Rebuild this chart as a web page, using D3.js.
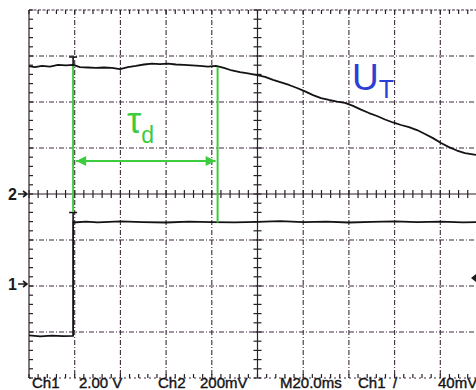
<!DOCTYPE html>
<html>
<head>
<meta charset="utf-8">
<script src="https://cdn.jsdelivr.net/npm/d3@7"></script>
<style>
  body { margin: 0; background: #fff; }
  svg { display: block; font-family: "Liberation Sans", Arial, sans-serif; }
  .grid { stroke: #3e2b3c; stroke-width: 1.1; stroke-dasharray: 5,2,1,2; fill: none; }
  .tick { stroke: #2a1f29; stroke-width: 1.2; }
  .trace { fill: none; stroke: #141214; stroke-width: 1.8; stroke-linejoin: round; }
  .cursor { stroke: #3dcc3d; stroke-width: 2; fill: none; }
</style>
</head>
<body>
<script>
// Scope settings
var timePerDiv = 20,   // ms
    ch1PerDiv = 2,     // V
    ch2PerDiv = 200;   // mV

// Ch2 trace U_T: time (ms) and voltage (mV)
var utTime = [0, 2.6, 5.7, 9.2, 12.7, 16.2, 19.3, 22.3, 25.8, 29.3, 32.8, 36.3, 39.8,
    43.3, 46.8, 50.3, 53.8, 57.3, 60.8, 64.3, 67.8, 71.3, 74.8, 78.3, 81.8, 85.3,
    88.8, 92.3, 95.8, 99.8, 103.3, 106.8, 110.3, 113.8, 117.3, 120.8, 124.3, 127.8,
    131.3, 134.8, 138.3, 141.8, 145.3, 148.8, 152.3, 155.8, 159.3, 162.8, 166.3,
    169.8, 173.3, 176.8, 180.3, 183.8, 187.3, 190.8, 195.6];
var utValue = [556, 552, 557, 554, 561, 559, 561, 552, 550, 548, 550, 548, 543,
    552, 557, 563, 567, 565, 567, 563, 561, 559, 557, 554, 557, 548,
    537, 530, 524, 517, 509, 496, 485, 474, 461, 446, 430, 417,
    409, 402, 396, 383, 367, 352, 339, 324, 311, 300, 291,
    278, 261, 243, 222, 204, 189, 178, 170];

// Ch1 trace: time (ms) and voltage (V), step at the trigger
var ch1Time = [0, 5, 10, 15, 19.3, 19.3, 25, 30, 40, 50, 60, 70, 80, 90, 100,
    110, 120, 130, 140, 150, 160, 170, 180, 190, 200];
var ch1Value = [-2.15, -2.19, -2.16, -2.18, -2.17, 2.76, 2.80, 2.77, 2.81, 2.78, 2.76,
    2.80, 2.78, 2.77, 2.79, 2.82, 2.78, 2.80, 2.76, 2.79, 2.81, 2.78, 2.80, 2.77, 2.79];

// Cursor times (ms)
var cursorTimes = [19.3, 82.1];

// Status line labels
var statusLabels = ["Ch1", "2.00 V", "Ch2", "200mV", "M20.0ms", "Ch1", "/", "40mV"];
var statusX = [32, 79, 158, 200, 280, 358, 393, 438];

var width = 476, height = 390;
var plotLeft = 29, plotTop = 10, divW = 45.7, divH = 46;

var svg = d3.select("body").append("svg")
    .attr("width", width)
    .attr("height", height);

// Time scale: 10 divisions across
var x = d3.scaleLinear()
    .domain([0, 10 * timePerDiv])
    .range([plotLeft, plotLeft + 10 * divW]);

// Screen divisions, 8 high, centre is 0
var yDiv = d3.scaleLinear()
    .domain([-4, 4])
    .range([plotTop + 8 * divH, plotTop]);

// Channel scales: Ch2 ground at centre, Ch1 ground two divisions below
var y2 = d3.scaleLinear()
    .domain([-4 * ch2PerDiv, 4 * ch2PerDiv])
    .range(yDiv.range());
var y1 = d3.scaleLinear()
    .domain([-2 * ch1PerDiv, 6 * ch1PerDiv])
    .range(yDiv.range());

var g = svg.append("g");

// Grid lines
g.selectAll(".vgrid")
    .data(d3.range(1, 10).filter(function(d) { return d !== 5; }))
    .enter().append("line")
    .attr("class", "grid")
    .attr("x1", function(d) { return x(d * timePerDiv); })
    .attr("x2", function(d) { return x(d * timePerDiv); })
    .attr("y1", yDiv(4)).attr("y2", yDiv(-4));

g.selectAll(".hgrid")
    .data(d3.range(-3, 4).filter(function(d) { return d !== 0; }))
    .enter().append("line")
    .attr("class", "grid")
    .attr("x1", x(0)).attr("x2", width)
    .attr("y1", function(d) { return yDiv(d); })
    .attr("y2", function(d) { return yDiv(d); });

// Frame: top, bottom dotted, left solid
g.append("line").attr("class", "grid")
    .attr("x1", x(0)).attr("x2", width)
    .attr("y1", yDiv(4)).attr("y2", yDiv(4))
    .style("stroke-dasharray", "3,1.5");
g.append("line").attr("class", "grid")
    .attr("x1", x(0)).attr("x2", width)
    .attr("y1", yDiv(-4)).attr("y2", yDiv(-4))
    .style("stroke-dasharray", "2,3");
g.append("line").attr("class", "tick")
    .attr("x1", x(0)).attr("x2", x(0))
    .attr("y1", yDiv(4)).attr("y2", yDiv(-4));

// Centre axes
g.append("line").attr("class", "tick")
    .attr("x1", x(0)).attr("x2", width)
    .attr("y1", yDiv(0)).attr("y2", yDiv(0));
g.append("line").attr("class", "tick")
    .attr("x1", x(5 * timePerDiv)).attr("x2", x(5 * timePerDiv))
    .attr("y1", yDiv(4)).attr("y2", yDiv(-4));

// Minor ticks, five per division
var xMinor = d3.range(0, 10 * timePerDiv + 0.1, timePerDiv / 5);
var yMinor = d3.range(-4, 4.01, 0.2);

g.selectAll(".xc").data(xMinor).enter().append("line")
    .attr("class", "tick")
    .attr("x1", function(d) { return x(d); }).attr("x2", function(d) { return x(d); })
    .attr("y1", yDiv(0) - 4).attr("y2", yDiv(0) + 4);
g.selectAll(".xt").data(xMinor).enter().append("line")
    .attr("class", "tick")
    .attr("x1", function(d) { return x(d); }).attr("x2", function(d) { return x(d); })
    .attr("y1", yDiv(4)).attr("y2", yDiv(4) + 4);
g.selectAll(".xb").data(xMinor).enter().append("line")
    .attr("class", "tick")
    .attr("x1", function(d) { return x(d); }).attr("x2", function(d) { return x(d); })
    .attr("y1", yDiv(-4)).attr("y2", yDiv(-4) - 4);
g.selectAll(".yc").data(yMinor).enter().append("line")
    .attr("class", "tick")
    .attr("x1", x(5 * timePerDiv) - 4).attr("x2", x(5 * timePerDiv) + 4)
    .attr("y1", function(d) { return yDiv(d); }).attr("y2", function(d) { return yDiv(d); });
g.selectAll(".yl").data(yMinor).enter().append("line")
    .attr("class", "tick")
    .attr("x1", x(0)).attr("x2", x(0) + 4)
    .attr("y1", function(d) { return yDiv(d); }).attr("y2", function(d) { return yDiv(d); });

// Traces
var line = d3.line();
svg.append("path")
    .attr("class", "trace")
    .attr("d", line(utTime.map(function(t, i) { return [x(t), y2(utValue[i])]; })));
svg.append("path")
    .attr("class", "trace")
    .attr("d", line(ch1Time.map(function(t, i) { return [x(t), y1(ch1Value[i])]; })));

// Trigger cursor marks
function tMark(px, py) {
    svg.append("path")
        .attr("d", "M" + (px - 4) + "," + py + "H" + (px + 4) + "M" + px + "," + py + "V" + (py + 10))
        .attr("stroke", "#141214").attr("stroke-width", 1.6).attr("fill", "none");
}
tMark(x(cursorTimes[0]), y2(utValue[6]) - 8);
tMark(x(cursorTimes[0]), y1(ch1Value[5]) - 10);

// Green cursors
svg.append("line").attr("class", "cursor")
    .attr("x1", x(cursorTimes[0])).attr("x2", x(cursorTimes[0]))
    .attr("y1", y2(utValue[6]) + 1).attr("y2", y1(ch1Value[5]) - 11);
svg.append("line").attr("class", "cursor")
    .attr("x1", x(cursorTimes[1]) + 1).attr("x2", x(cursorTimes[1]) + 1)
    .attr("y1", y2(557) + 1).attr("y2", y1(ch1Value[5]));

var defs = svg.append("defs");
defs.append("marker").attr("id", "ah")
    .attr("viewBox", "0 0 10 10").attr("refX", 10).attr("refY", 5)
    .attr("markerWidth", 7).attr("markerHeight", 5).attr("orient", "auto-start-reverse")
    .attr("markerUnits", "strokeWidth")
    .append("path").attr("d", "M0,0L10,5L0,10Z").attr("fill", "#3dcc3d");

var arrowY = 161;
svg.append("line").attr("class", "cursor")
    .attr("x1", x(cursorTimes[0]) + 3).attr("x2", x(cursorTimes[1]) - 1)
    .attr("y1", arrowY).attr("y2", arrowY)
    .attr("marker-start", "url(#ah)").attr("marker-end", "url(#ah)");

// Labels
var tau = svg.append("text").attr("x", 127).attr("y", 133)
    .attr("fill", "#3dcc3d").style("font-size", "36px").text("τ");
tau.append("tspan").attr("dy", 10).style("font-size", "23px").text("d");

var ut = svg.append("text").attr("x", 352).attr("y", 90)
    .attr("fill", "#2b3fd6").style("font-size", "37px").text("U");
ut.append("tspan").attr("dy", 8).style("font-size", "25px").text("T");

// Channel ground markers
function gnd(label, py) {
    svg.append("text").attr("x", 8).attr("y", py + 6)
        .style("font-size", "16px").style("font-weight", "bold").attr("fill", "#1a1a1a")
        .text(label);
    svg.append("path")
        .attr("d", "M18," + py + "H27M23," + (py - 3) + "L27," + py + "L23," + (py + 3))
        .attr("stroke", "#1a1a1a").attr("stroke-width", 1.6).attr("fill", "none");
}
gnd("2", y2(0));
gnd("1", y1(0) - 2);

// Trigger level marker on the right edge
svg.append("path").attr("d", "M476,274L471,278L476,282Z").attr("fill", "#1a1a1a");

// Status line
svg.selectAll(".status")
    .data(statusLabels)
    .enter().append("text")
    .attr("x", function(d, i) { return statusX[i]; })
    .attr("y", 388)
    .style("font-size", "15px")
    .attr("fill", "#141214")
    .attr("stroke", "#141214").attr("stroke-width", 0.4)
    .text(function(d) { return d; });
</script>
</body>
</html>
